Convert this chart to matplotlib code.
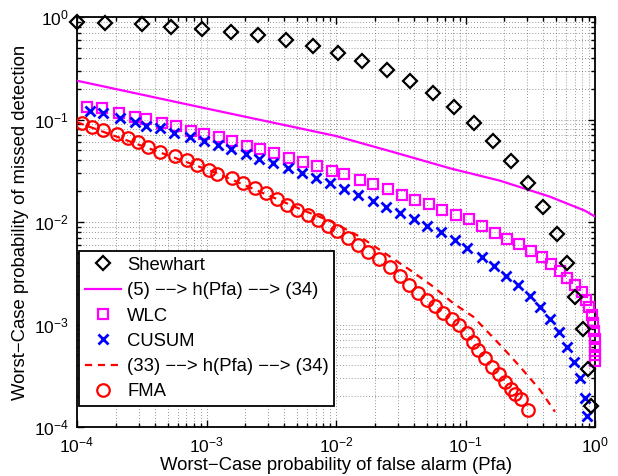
import numpy as np
import matplotlib
matplotlib.use("Agg")
import matplotlib.pyplot as plt
from matplotlib.ticker import LogLocator, NullFormatter

plt.rcParams['font.family'] = ['Liberation Sans', 'DejaVu Sans']
plt.rcParams['mathtext.fontset'] = 'custom'
plt.rcParams['mathtext.rm'] = 'Liberation Sans'
plt.rcParams['mathtext.it'] = 'Liberation Sans'
plt.rcParams['mathtext.bf'] = 'Liberation Sans'
plt.rcParams['mathtext.default'] = 'regular'

# ---------------- data ----------------
shewhart_pfa = [1.0e-4, 1.64e-4, 3.16e-4, 5.3e-4, 9.3e-4, 1.54e-3, 2.5e-3, 4.1e-3, 6.6e-3,
                0.0103, 0.016, 0.0249, 0.0373, 0.0558, 0.0815, 0.116, 0.164, 0.225, 0.304,
                0.394, 0.506, 0.611, 0.701, 0.804, 0.879, 0.931]
shewhart_pmd = [0.90, 0.88, 0.855, 0.80, 0.76, 0.71, 0.66, 0.60, 0.525,
                0.45, 0.375, 0.304, 0.239, 0.18, 0.133, 0.093, 0.062, 0.0397, 0.0242,
                0.0139, 0.00764, 0.00401, 0.00184, 0.000897, 0.000366, 0.00016]

bound5_pfa = [1e-4, 1e-3, 1e-2, 0.0312, 0.0759, 0.1846, 0.449, 0.837, 1.0]
bound5_pmd = [0.239, 0.128, 0.069, 0.0461, 0.0334, 0.0253, 0.01765, 0.01289, 0.0113]

wlc_pfa = [1.19e-4, 1.57e-4, 2.12e-4, 2.81e-4, 3.41e-4, 4.51e-4, 5.78e-4, 7.59e-4, 9.57e-4,
           1.25e-3, 1.57e-3, 2.04e-3, 2.59e-3, 3.34e-3, 4.31e-3, 5.56e-3, 7.13e-3, 9.31e-3,
           0.0116, 0.0153, 0.0194, 0.0252, 0.0322, 0.0411, 0.0522, 0.0664, 0.0845, 0.107,
           0.135, 0.169, 0.210, 0.260, 0.319, 0.388, 0.457, 0.537, 0.611, 0.701, 0.789,
           0.852, 0.899, 0.943, 0.970, 0.988, 0.995, 0.999, 1.0, 1.0]
wlc_pmd = [0.133, 0.129, 0.115, 0.1065, 0.1011, 0.0918, 0.0864, 0.0777, 0.0722,
           0.0671, 0.0613, 0.0555, 0.0512, 0.0468, 0.0418, 0.0382, 0.0349, 0.0315,
           0.0294, 0.0257, 0.0233, 0.0208, 0.0185, 0.0165, 0.0149, 0.0132, 0.0117, 0.0106,
           0.0092, 0.00786, 0.00683, 0.00606, 0.00521, 0.00452, 0.00389, 0.00335, 0.00286,
           0.00243, 0.00209, 0.00173, 0.00147, 0.00124, 0.00104, 0.000864, 0.000722,
           0.000603, 0.000504, 0.000440]

cusum_pfa = [1.26e-4, 1.60e-4, 2.15e-4, 2.82e-4, 3.41e-4, 4.37e-4, 5.64e-4, 7.46e-4, 9.57e-4,
             1.22e-3, 1.54e-3, 2.02e-3, 2.56e-3, 3.24e-3, 4.24e-3, 5.49e-3, 7.01e-3, 8.99e-3,
             0.0116, 0.0147, 0.0192, 0.0243, 0.0312, 0.040, 0.0507, 0.0643, 0.083, 0.1036,
             0.1334, 0.166, 0.2055, 0.2557, 0.315, 0.376, 0.449, 0.527, 0.611, 0.692, 0.766,
             0.837, 0.875]
cusum_pmd = [0.1219, 0.115, 0.1041, 0.0952, 0.087, 0.0821, 0.0733, 0.0671, 0.0617,
             0.0564, 0.0512, 0.0461, 0.0409, 0.0374, 0.0334, 0.0299, 0.0267, 0.0242,
             0.0208, 0.0183, 0.016, 0.0139, 0.0123, 0.0106, 0.00914, 0.00793, 0.00667, 0.00561,
             0.00452, 0.00372, 0.00299, 0.00243, 0.0019, 0.00147, 0.00112, 0.000836, 0.000607,
             0.000434, 0.000299, 0.000192, 0.000128]

bound33_pfa = [1e-4, 1.2e-3, 5.27e-3, 9.26e-3, 0.0153, 0.0239, 0.0373, 0.0564, 0.0805,
               0.1149, 0.1958, 0.2635, 0.376, 0.491]
bound33_pmd = [0.094, 0.0300, 0.0134, 0.01007, 0.00719, 0.00495, 0.0034, 0.00234, 0.00161,
               0.00119, 0.000586, 0.000388, 0.00023, 0.000141]

fma_pfa = [1.087e-4, 1.30e-4, 1.60e-4, 2.03e-4, 2.49e-4, 2.97e-4, 3.55e-4, 4.37e-4, 5.71e-4,
           7.03e-4, 8.49e-4, 1.05e-3, 1.21e-3, 1.57e-3, 1.92e-3, 2.37e-3, 2.88e-3, 3.48e-3,
           4.21e-3, 5.03e-3, 6.08e-3, 7.26e-3, 8.72e-3, 0.01027, 0.01238, 0.01487, 0.01776,
           0.0216, 0.0261, 0.0312, 0.0368, 0.0432, 0.0502, 0.0581, 0.0674, 0.0782, 0.0896,
           0.102, 0.1143, 0.1249, 0.1427, 0.160, 0.180, 0.2018, 0.2226, 0.2432, 0.2659, 0.3039]
fma_pmd = [0.0918, 0.0851, 0.0790, 0.0717, 0.0664, 0.0599, 0.0543, 0.0485, 0.0443,
           0.0403, 0.036, 0.0322, 0.0297, 0.0267, 0.0238, 0.0213, 0.0191, 0.0167,
           0.0147, 0.0131, 0.0117, 0.01046, 0.00924, 0.00826, 0.00698, 0.00597, 0.00513,
           0.00433, 0.00366, 0.00297, 0.00243, 0.00204, 0.00173, 0.00152, 0.00129, 0.00112,
           0.00099, 0.00082, 0.00068, 0.000564, 0.000468, 0.000388, 0.000327, 0.000277,
           0.000237, 0.000212, 0.000188, 0.000148]

labels = ["Shewhart", "(5) −−> h(Pfa) −−> (34)", "WLC", "CUSUM",
          "(33) −−> h(Pfa) −−> (34)", "FMA"]

# ---------------- figure ----------------
fig = plt.figure(figsize=(6.18, 4.76), dpi=100)
ax = fig.add_axes([77/618, 1-427/476, (595-77)/618, (427-17)/476])

ax.plot(shewhart_pfa, shewhart_pmd, linestyle='none', marker='D', ms=7, mfc='none',
        mec='k', mew=1.6, label=labels[0], clip_on=False, zorder=5)
ax.plot(bound5_pfa, bound5_pmd, color=(1, 0, 1), lw=1.6, label=labels[1], zorder=3)
ax.plot(wlc_pfa, wlc_pmd, linestyle='none', marker='s', ms=7, mfc='none',
        mec=(1, 0, 1), mew=1.6, label=labels[2], clip_on=False, zorder=4)
ax.plot(cusum_pfa, cusum_pmd, linestyle='none', marker='x', ms=6.5,
        mec=(0, 0, 1), mew=2.0, label=labels[3], zorder=4)
ax.plot(bound33_pfa, bound33_pmd, color=(1, 0, 0), lw=1.6, ls=(0, (3.2, 2.6)),
        label=labels[4], zorder=3)
ax.plot(fma_pfa, fma_pmd, linestyle='none', marker='o', ms=9, mfc='none',
        mec=(1, 0, 0), mew=1.6, label=labels[5], zorder=4)

ax.set_xscale('log')
ax.set_yscale('log')
ax.set_xlim(1e-4, 1)
ax.set_ylim(1e-4, 1)

ax.xaxis.set_major_locator(LogLocator(base=10, numticks=10))
ax.yaxis.set_major_locator(LogLocator(base=10, numticks=10))
ax.xaxis.set_minor_locator(LogLocator(base=10, subs=np.arange(2, 10), numticks=20))
ax.yaxis.set_minor_locator(LogLocator(base=10, subs=np.arange(2, 10), numticks=20))
ax.xaxis.set_minor_formatter(NullFormatter())
ax.yaxis.set_minor_formatter(NullFormatter())

ax.grid(True, which='both', color='0.45', linestyle=(0, (1, 2.5)), linewidth=0.6)
ax.tick_params(which='both', direction='in', top=True, right=True, labelsize=12.5,
               width=1.0, colors='k')
ax.tick_params(which='major', length=5, pad=6)
ax.tick_params(which='minor', length=3)
for s in ax.spines.values():
    s.set_linewidth(1.3)

ax.set_xlabel("Worst−Case probability of false alarm (Pfa)", fontsize=13.3, labelpad=1.5)
ax.set_ylabel("Worst−Case probability of missed detection", fontsize=13.3, labelpad=3)

leg = ax.legend(loc='lower left', bbox_to_anchor=(79/618, 1-406/476),
                bbox_transform=fig.transFigure, borderaxespad=0, fontsize=13.3,
                fancybox=False, framealpha=1, edgecolor='k', handlelength=2.0,
                handletextpad=0.3, labelspacing=0.45, borderpad=0.3)
leg.get_frame().set_linewidth(1.3)

fig.savefig("out.png", dpi=100)
